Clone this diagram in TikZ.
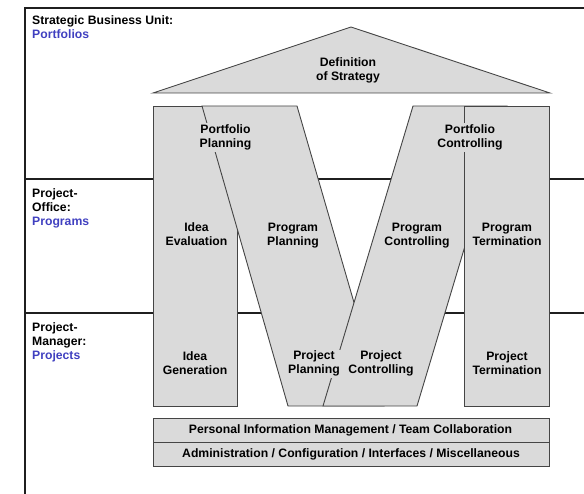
\documentclass[tikz,border=0pt]{standalone}
\usepackage{fontspec}
\setmainfont{Liberation Sans}
\definecolor{boxgray}{HTML}{DADADA}
\definecolor{edgegray}{HTML}{454545}
\definecolor{lblue}{HTML}{4040C0}
\begin{document}
\begin{tikzpicture}[x=1bp,y=-1bp,
  frame/.style={draw=black!88, line width=1.4bp},
  shapebox/.style={fill=boxgray, draw=edgegray, line width=0.9bp, line join=miter},
  lbl/.style={font=\fontsize{12.2bp}{14bp}\selectfont\bfseries, align=center, inner sep=1.5bp},
  lblf/.style={lbl, fill=boxgray},
  side/.style={font=\fontsize{12.2bp}{14bp}\selectfont\bfseries, align=left, inner sep=0pt, anchor=north west},
]
\useasboundingbox (0,0) rectangle (584,494);
% frame and level lines
\draw[frame] (584,8) -- (25,8) -- (25,494);
\draw[frame] (25,179) -- (584,179);
\draw[frame] (25,313) -- (584,313);
% roof
\draw[shapebox] (153,93) -- (351,27) -- (550,93) -- cycle;
% idea column
\draw[shapebox] (153,106) rectangle (237,406);
% left leg of M
\draw[shapebox] (202,106) -- (297,106) -- (384,406) -- (288,406) -- cycle;
% right leg of M
\draw[shapebox] (413,106) -- (507,106) -- (417,406) -- (323,406) -- cycle;
% termination column
\draw[shapebox] (464,106) rectangle (549,406);
% bottom bars
\draw[shapebox] (153,418) rectangle (549,442);
\draw[shapebox] (153,442) rectangle (549,466);
% side labels
\node[side] (sbu) at (32,15) {Strategic Business Unit:\\\textcolor{lblue}{Portfolios}};
\node[side] (po) at (32,188) {Project-\\Office:\\\textcolor{lblue}{Programs}};
\node[side] (pm) at (32,322) {Project-\\Manager:\\\textcolor{lblue}{Projects}};
% inner labels
\node[lbl] (def) at (348,70.8) {Definition\\of Strategy};
\node[lblf] (pp) at (225.5,137.5) {Portfolio\\Planning};
\node[lblf] (pc) at (470,137.5) {Portfolio\\Controlling};
\node[lbl] (ie) at (196.5,234.4) {Idea\\Evaluation};
\node[lbl] (prp) at (293,235.6) {Program\\Planning};
\node[lbl] (prc) at (417,235.6) {Program\\Controlling};
\node[lbl] (prt) at (507,234.4) {Program\\Termination};
\node[lbl] (ig) at (195,363.3) {Idea\\Generation};
\node[lblf] (pjp) at (314,363.8) {Project\\Planning};
\node[lblf] (pjc) at (381,363.8) {Project\\Controlling};
\node[lbl] (pjt) at (507,363) {Project\\Termination};
\node[lbl] (pim) at (350.5,430) {Personal Information Management / Team Collaboration};
\node[lbl] (adm) at (351,454) {Administration / Configuration / Interfaces / Miscellaneous};
\end{tikzpicture}
\end{document}
